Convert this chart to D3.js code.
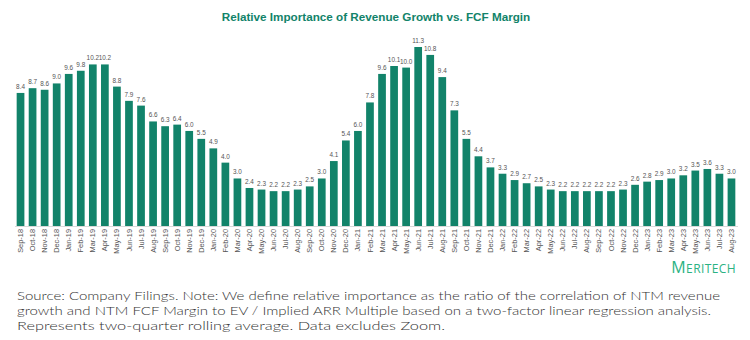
<!DOCTYPE html>
<html>
<head>
<meta charset="utf-8">
<script src="https://cdn.jsdelivr.net/npm/d3@7"></script>
<style>
body{margin:0;background:#fff;}
svg{display:block;}
</style>
</head>
<body>
<svg id="chart" width="750" height="340"></svg>
<script>
// months Sep-18 .. Aug-23
var months = ["Sep-18","Oct-18","Nov-18","Dec-18","Jan-19","Feb-19","Mar-19","Apr-19","May-19","Jun-19","Jul-19","Aug-19",
  "Sep-19","Oct-19","Nov-19","Dec-19","Jan-20","Feb-20","Mar-20","Apr-20","May-20","Jun-20","Jul-20","Aug-20",
  "Sep-20","Oct-20","Nov-20","Dec-20","Jan-21","Feb-21","Mar-21","Apr-21","May-21","Jun-21","Jul-21","Aug-21",
  "Sep-21","Oct-21","Nov-21","Dec-21","Jan-22","Feb-22","Mar-22","Apr-22","May-22","Jun-22","Jul-22","Aug-22",
  "Sep-22","Oct-22","Nov-22","Dec-22","Jan-23","Feb-23","Mar-23","Apr-23","May-23","Jun-23","Jul-23","Aug-23"];
var importance = [8.4,8.7,8.6,9.0,9.6,9.8,10.2,10.2,8.8,7.9,7.6,6.6,
  6.3,6.4,6.0,5.5,4.9,4.0,3.0,2.4,2.3,2.2,2.2,2.3,
  2.5,3.0,4.1,5.4,6.0,7.8,9.6,10.1,10.0,11.3,10.8,9.4,
  7.3,5.5,4.4,3.7,3.3,2.9,2.7,2.5,2.3,2.2,2.2,2.2,
  2.2,2.2,2.3,2.6,2.8,2.9,3.0,3.2,3.5,3.6,3.3,3.0];
var title = "Relative Importance of Revenue Growth vs. FCF Margin";
var footnote = ["Source: Company Filings. Note: We define relative importance as the ratio of the correlation of NTM revenue",
  "growth and NTM FCF Margin to EV / Implied ARR Multiple based on a two-factor linear regression analysis.",
  "Represents two-quarter rolling average. Data excludes Zoom."];
var footWidths = [703, 694, 428];

var data = months.map(function(m,i){return {month:m, value:importance[i]};});

var svg = d3.select("#chart");
var green = "#12836a";

var x = d3.scaleBand()
  .domain(months)
  .range([14.5, 737.5])
  .paddingInner(0.36)
  .paddingOuter(0.18);

var y = d3.scaleLinear()
  .domain([0, 11.3])
  .range([226, 47]);

svg.append("text")
  .attr("x", 376)
  .attr("y", 21)
  .attr("text-anchor","middle")
  .style("font-family","Liberation Sans, Arial, sans-serif")
  .style("font-weight","bold")
  .style("font-size","11.7px")
  .style("fill", green)
  .text(title);

svg.selectAll("rect.bar")
  .data(data)
  .enter()
  .append("rect")
  .attr("class","bar")
  .attr("x", function(d){return x(d.month);})
  .attr("y", function(d){return y(d.value);})
  .attr("width", x.bandwidth())
  .attr("height", function(d){return y(0) - y(d.value);})
  .style("fill", green);

svg.selectAll("text.val")
  .data(data)
  .enter()
  .append("text")
  .attr("class","val")
  .attr("x", function(d){return x(d.month) + x.bandwidth()/2;})
  .attr("y", function(d){return y(d.value) - 4;})
  .attr("text-anchor","middle")
  .style("font-family","Liberation Sans, Arial, sans-serif")
  .style("font-size","6.4px")
  .style("fill","#555")
  .text(function(d){return d.value.toFixed(1);});

// baseline + rotated month labels
var xAxis = d3.axisBottom(x).tickSize(0).tickPadding(0);
var gx = svg.append("g")
  .attr("transform","translate(0," + y(0) + ")")
  .call(xAxis);
gx.select(".domain").attr("stroke","#d9d9d9").attr("stroke-width",1);
gx.selectAll(".tick text")
  .attr("transform","rotate(-90)")
  .attr("x", -3)
  .attr("y", 0)
  .attr("dy","0.34em")
  .attr("text-anchor","end")
  .style("font-family","Liberation Sans, Arial, sans-serif")
  .style("font-size","7.4px")
  .style("fill","#555");

// logo
var logo = svg.append("text")
  .attr("x", 736)
  .attr("y", 273)
  .attr("text-anchor","end")
  .style("font-family","Open Sans, sans-serif")
  .style("font-weight","400")
  .style("letter-spacing","0.4px")
  .style("fill","#2bb283");
logo.append("tspan").style("font-size","16px").text("M");
logo.append("tspan").style("font-size","12px").text("ERITECH");

var foot = svg.append("g");
foot.selectAll("text")
  .data(footnote)
  .enter()
  .append("text")
  .attr("x", 17)
  .attr("y", function(d,i){return 300 + i*14.8;})
  .attr("textLength", function(d,i){return footWidths[i];})
  .attr("lengthAdjust","spacingAndGlyphs")
  .style("font-family","Lato, sans-serif")
  .style("font-weight","300")
  .style("font-size","12.3px")
  .style("fill","#333")
  .text(function(d){return d;});
</script>
</body>
</html>
